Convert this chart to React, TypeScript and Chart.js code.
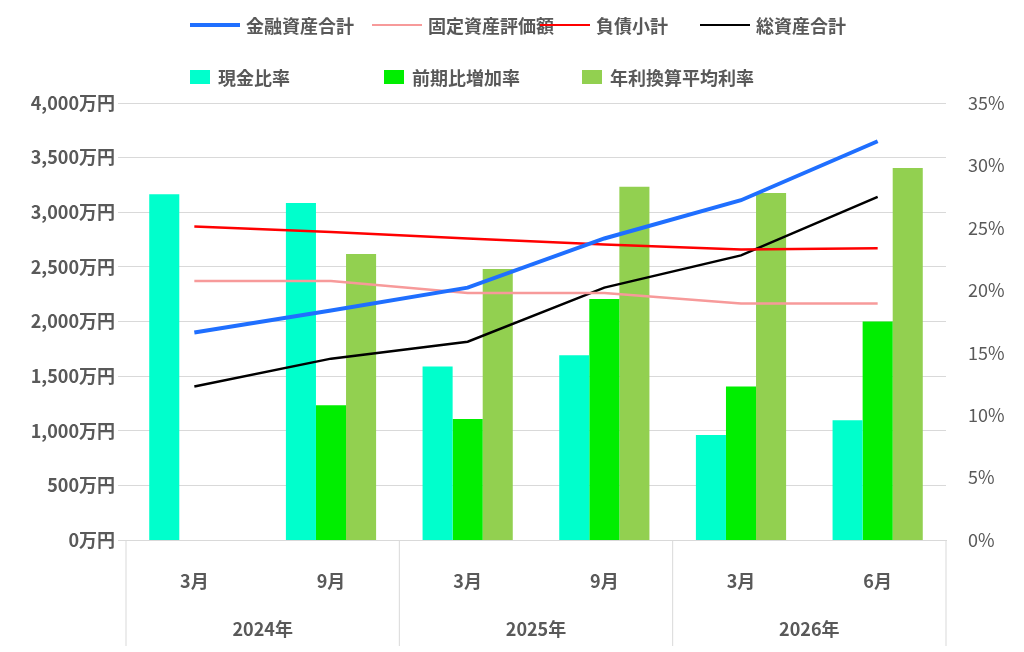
import { useRef, useEffect } from "react";
import { Chart, registerables } from "chart.js";

Chart.register(...registerables);

const months = ["3月", "9月", "3月", "9月", "3月", "6月"];
const years = ["2024年", "2025年", "2026年"];

const financial = [1900, 2100, 2310, 2760, 3110, 3650];
const fixedAssets = [2370, 2370, 2260, 2260, 2165, 2165];
const debt = [2870, 2820, 2760, 2705, 2660, 2670];
const totalAssets = [1405, 1660, 1815, 2310, 2605, 3140];

const cashRatio = [27.7, 27.0, 13.9, 14.8, 8.4, 9.6];
const growthRate = [null, 10.8, 9.7, 19.3, 12.3, 17.5];
const annualRate = [null, 22.9, 21.7, 28.3, 27.8, 29.8];

const FONT = "'Noto Sans CJK JP', 'Noto Sans', sans-serif";
const TXT = "#595959";

const lineLegend = [
  { label: "金融資産合計", color: "#1f6fff", w: 4 },
  { label: "固定資産評価額", color: "#f79a9a", w: 2.5 },
  { label: "負債小計", color: "#ff0000", w: 2.5 },
  { label: "総資産合計", color: "#000000", w: 2.5 },
];
const barLegend = [
  { label: "現金比率", color: "#00ffcc" },
  { label: "前期比増加率", color: "#00ee00" },
  { label: "年利換算平均利率", color: "#92d050" },
];

const yearPlugin = {
  id: "years",
  afterDraw(chart: Chart) {
    const { ctx, scales, chartArea } = chart;
    const x = scales.x;
    const step = x.getPixelForValue(1) - x.getPixelForValue(0);
    ctx.save();
    ctx.strokeStyle = "#d9d9d9";
    ctx.lineWidth = 1;
    for (let i = 0; i <= 3; i++) {
      const px = x.getPixelForValue(i * 2) - step / 2;
      ctx.beginPath();
      ctx.moveTo(px, chartArea.bottom);
      ctx.lineTo(px, chartArea.bottom + 106);
      ctx.stroke();
    }
    ctx.fillStyle = TXT;
    ctx.font = `bold 18px ${FONT}`;
    ctx.textAlign = "center";
    ctx.textBaseline = "middle";
    years.forEach((y, i) => {
      const px = (x.getPixelForValue(i * 2) + x.getPixelForValue(i * 2 + 1)) / 2;
      ctx.fillText(y, px, chartArea.bottom + 89);
    });
    ctx.restore();
  },
};

function ComboChart() {
  const canvasRef = useRef<HTMLCanvasElement>(null);
  const chartRef = useRef<Chart | null>(null);

  useEffect(() => {
    if (!canvasRef.current) return;
    chartRef.current?.destroy();

    const lineData = [financial, fixedAssets, debt, totalAssets];
    const barData = [cashRatio, growthRate, annualRate];

    chartRef.current = new Chart(canvasRef.current, {
      type: "bar",
      data: {
        labels: months,
        datasets: [
          ...lineLegend.map((l, i) => ({
            type: "line" as const,
            label: l.label,
            data: lineData[i],
            borderColor: l.color,
            backgroundColor: l.color,
            borderWidth: l.w,
            pointRadius: 0,
            tension: 0,
            yAxisID: "y",
          })),
          ...barLegend.map((b, i) => ({
            type: "bar" as const,
            label: b.label,
            data: barData[i],
            backgroundColor: b.color,
            yAxisID: "y1",
            categoryPercentage: 0.66,
            barPercentage: 1,
          })),
        ],
      },
      options: {
        animation: false,
        responsive: false,
        layout: { padding: { top: 103, bottom: 6, left: 0, right: 0 } },
        plugins: { legend: { display: false }, tooltip: { enabled: false } },
        scales: {
          x: {
            grid: { display: false },
            border: { color: "#d9d9d9" },
            ticks: { color: TXT, font: { family: FONT, size: 18, weight: "bold" }, padding: 22 },
            afterFit: (s: any) => { s.height = 106; },
          },
          y: {
            min: 0,
            max: 4000,
            ticks: {
              stepSize: 500,
              color: TXT,
              font: { family: FONT, size: 18, weight: "bold" },
              callback: (v: any) => Number(v).toLocaleString("en-US") + "万円",
            },
            grid: { color: "#d9d9d9" },
            border: { display: false },
            afterFit: (s: any) => { s.width = 126; },
          },
          y1: {
            position: "right",
            min: 0,
            max: 35,
            ticks: {
              stepSize: 5,
              color: TXT,
              padding: 14,
              font: { family: FONT, size: 18 },
              callback: (v: any) => v + "%",
            },
            grid: { display: false },
            border: { display: false },
            afterFit: (s: any) => { s.width = 78; },
          },
        },
      },
      plugins: [yearPlugin],
    });

    return () => {
      chartRef.current?.destroy();
    };
  }, []);

  return <canvas ref={canvasRef} width={1024} height={652} />;
}

export default function App() {
  const item: React.CSSProperties = {
    position: "absolute",
    display: "flex",
    alignItems: "center",
    fontFamily: FONT,
    fontSize: 18,
    fontWeight: "bold",
    color: TXT,
    whiteSpace: "nowrap",
  };
  const lineX = [190, 372, 540, 700];
  const barX = [190, 384, 582];
  return (
    <div style={{ position: "fixed", left: 0, top: 0, width: 1024, height: 652, background: "#fff" }}>
      <ComboChart />
      {lineLegend.map((l, i) => (
        <div key={l.label} style={{ ...item, left: lineX[i], top: 12 }}>
          <span style={{ display: "inline-block", width: 50, height: l.w, background: l.color, marginRight: 6 }} />
          {l.label}
        </div>
      ))}
      {barLegend.map((b, i) => (
        <div key={b.label} style={{ ...item, left: barX[i], top: 64 }}>
          <span style={{ display: "inline-block", width: 20, height: 14, background: b.color, marginRight: 8 }} />
          {b.label}
        </div>
      ))}
    </div>
  );
}
